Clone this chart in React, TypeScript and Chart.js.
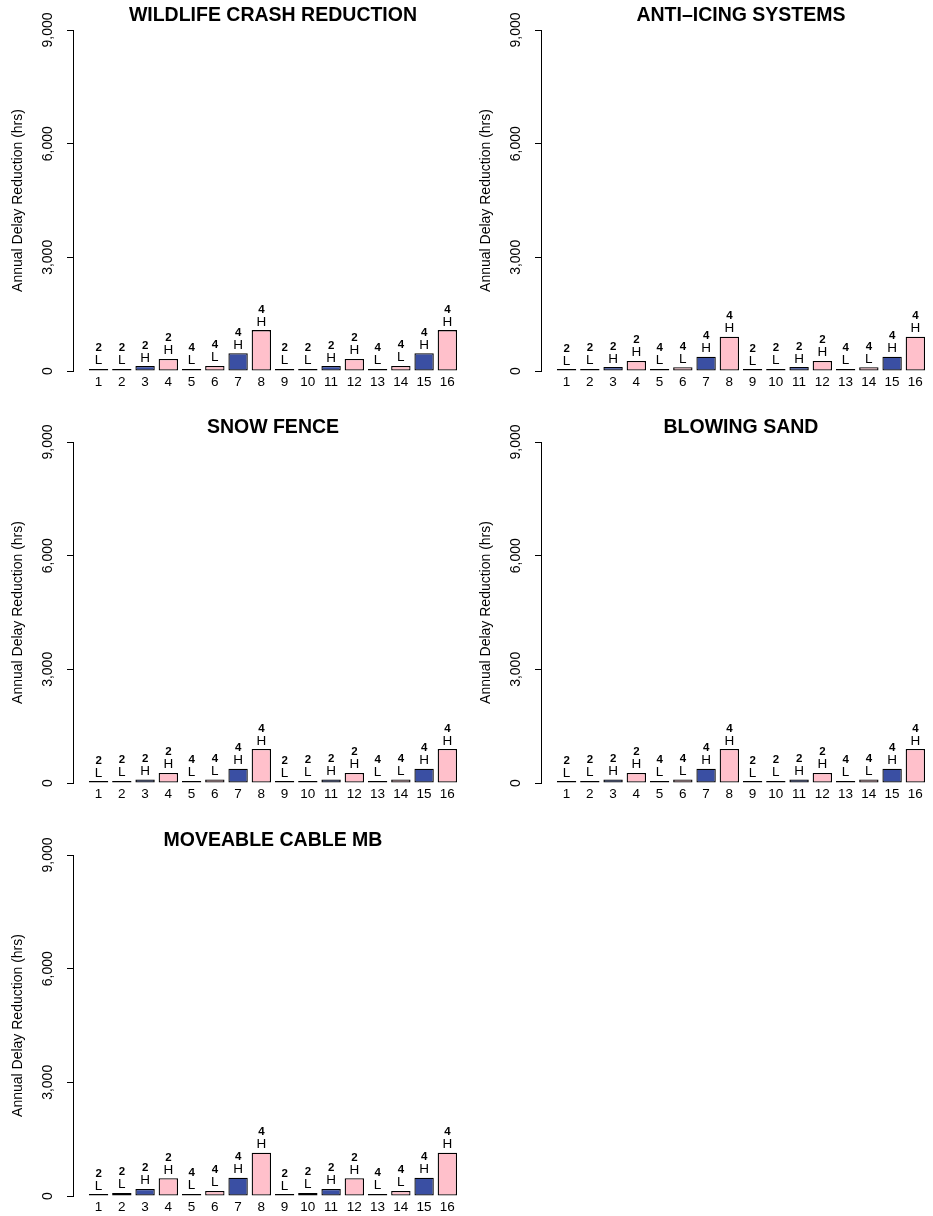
import React, { useEffect, useRef } from "react";
import { Chart, registerables } from "chart.js";

Chart.register(...registerables);

// ---------- data ----------
const categories = [1, 2, 3, 4, 5, 6, 7, 8, 9, 10, 11, 12, 13, 14, 15, 16];
const laneLabels = ["2", "2", "2", "2", "4", "4", "4", "4", "2", "2", "2", "2", "4", "4", "4", "4"];
const volumeLabels = ["L", "L", "H", "H", "L", "L", "H", "H", "L", "L", "H", "H", "L", "L", "H", "H"];
const yTickValues = [0, 3000, 6000, 9000];

const panelTitles = [
  "WILDLIFE CRASH REDUCTION",
  "ANTI\u2013ICING SYSTEMS",
  "SNOW FENCE",
  "BLOWING SAND",
  "MOVEABLE CABLE MB",
];

const wildlifeValues = [55, 55, 130, 320, 55, 135, 470, 1080, 55, 55, 130, 320, 55, 135, 470, 1080];
const antiIcingValues = [50, 55, 105, 265, 55, 100, 378, 905, 50, 55, 105, 265, 55, 100, 378, 905];
const snowFenceValues = [50, 55, 95, 264, 55, 95, 378, 897, 50, 55, 95, 264, 55, 95, 378, 897];
const blowingSandValues = [50, 55, 95, 264, 55, 95, 378, 897, 50, 55, 95, 264, 55, 95, 378, 897];
const moveableCableValues = [50, 80, 185, 467, 55, 132, 483, 1143, 50, 80, 185, 467, 55, 132, 483, 1143];

const panelValues = [wildlifeValues, antiIcingValues, snowFenceValues, blowingSandValues, moveableCableValues];

// ---------- styles ----------
const FONT = "'Liberation Sans', Arial, Helvetica, sans-serif";
const BLUE = "#3A4FA3";
const PINK = "#FFC0CB";
const PLOT_TOP = 30;
const PLOT_BOTTOM = 371;
const PLOT_LEFT = 73;
const PLOT_RIGHT = 472;

type PanelProps = {
  title: string;
  values: number[];
  left: number;
  top: number;
  width: number;
  height: number;
};

function Panel({ title, values, left, top, width, height }: PanelProps) {
  const ref = useRef<HTMLCanvasElement | null>(null);

  useEffect(() => {
    if (!ref.current) return;

    const textPlugin = {
      id: "panelText",
      afterDatasetsDraw(chart: any) {
        const ctx = chart.ctx as CanvasRenderingContext2D;
        const meta = chart.getDatasetMeta(0);
        ctx.save();
        ctx.fillStyle = "#000";
        ctx.textAlign = "center";
        ctx.textBaseline = "alphabetic";
        meta.data.forEach((bar: any, i: number) => {
          ctx.font = `13.5px ${FONT}`;
          ctx.fillText(volumeLabels[i], bar.x, bar.y - 4.5);
          ctx.font = `bold 11.5px ${FONT}`;
          ctx.fillText(laneLabels[i], bar.x, bar.y - 17.5);
        });

        // y tick labels (rotated, R style)
        const ys = chart.scales.y;
        ctx.font = `14px ${FONT}`;
        ctx.textBaseline = "middle";
        ys.ticks.forEach((t: any) => {
          const py = ys.getPixelForValue(t.value);
          ctx.save();
          ctx.translate(48, py);
          ctx.rotate(-Math.PI / 2);
          ctx.fillText(Number(t.value).toLocaleString("en-US"), 0, 0);
          ctx.restore();
        });

        // panel title
        const xs = chart.scales.x;
        const cx = (xs.getPixelForValue(categories[0]) + xs.getPixelForValue(categories[categories.length - 1])) / 2;
        ctx.font = `bold 19.5px ${FONT}`;
        ctx.textBaseline = "middle";
        ctx.fillText(title, cx, 15.5);
        ctx.restore();
      },
    };

    const chart = new Chart(ref.current, {
      type: "bar",
      data: {
        datasets: [
          {
            data: categories.map((c, i) => ({ x: c, y: values[i] })) as any,
            backgroundColor: categories.map((c) => (c % 2 === 1 ? BLUE : PINK)),
            borderColor: "#000",
            borderWidth: 1.3,
            borderSkipped: false,
            barPercentage: 1,
            categoryPercentage: 1 / 1.2,
          },
        ],
      },
      options: {
        responsive: false,
        animation: false,
        events: [],
        layout: { padding: { top: PLOT_TOP, left: 0, right: width - PLOT_RIGHT, bottom: 0 } },
        plugins: {
          legend: { display: false },
          tooltip: { enabled: false },
          title: { display: false },
        },
        scales: {
          x: {
            type: "linear",
            offset: false,
            min: -0.1,
            max: 17.06,
            grid: { display: false, drawTicks: false, offset: false },
            border: { display: false },
            afterBuildTicks: (s: any) => {
              s.ticks = categories.map((v) => ({ value: v }));
            },
            ticks: {
              autoSkip: false,
              maxRotation: 0,
              minRotation: 0,
              color: "#000",
              padding: 3,
              font: { family: FONT, size: 13.5 },
              callback: (v: any) => String(v),
            },
            afterFit: (s: any) => {
              s.height = height - PLOT_BOTTOM;
            },
          },
          y: {
            type: "linear",
            min: 0,
            max: 9000,
            afterBuildTicks: (s: any) => {
              s.ticks = yTickValues.map((v) => ({ value: v }));
            },
            ticks: { display: false },
            grid: {
              drawOnChartArea: false,
              drawTicks: true,
              tickLength: 6,
              color: "#000",
              lineWidth: 1,
            },
            border: { display: true, color: "#000", width: 1 },
            title: {
              display: true,
              text: "Annual Delay Reduction (hrs)",
              color: "#000",
              font: { family: FONT, size: 14 },
              padding: { top: 9.6, bottom: 0 },
            },
            afterFit: (s: any) => {
              s.width = PLOT_LEFT;
            },
          },
        },
      },
      plugins: [textPlugin],
    } as any);

    return () => chart.destroy();
  }, [title, values, width, height]);

  return (
    <canvas
      ref={ref}
      width={width}
      height={height}
      style={{ position: "absolute", left, top, width, height }}
    />
  );
}

export default function App() {
  const positions = [
    { left: 0, top: 0, width: 480, height: 412 },
    { left: 468, top: 0, width: 480, height: 412 },
    { left: 0, top: 412, width: 480, height: 413 },
    { left: 468, top: 412, width: 480, height: 413 },
    { left: 0, top: 825, width: 480, height: 391 },
  ];
  return (
    <div
      style={{
        position: "absolute",
        left: 0,
        top: 0,
        width: 933,
        height: 1216,
        overflow: "hidden",
        background: "#fff",
      }}
    >
      {positions.map((p, i) => (
        <Panel
          key={i}
          title={panelTitles[i]}
          values={panelValues[i]}
          left={p.left}
          top={p.top}
          width={p.width}
          height={p.height}
        />
      ))}
    </div>
  );
}
